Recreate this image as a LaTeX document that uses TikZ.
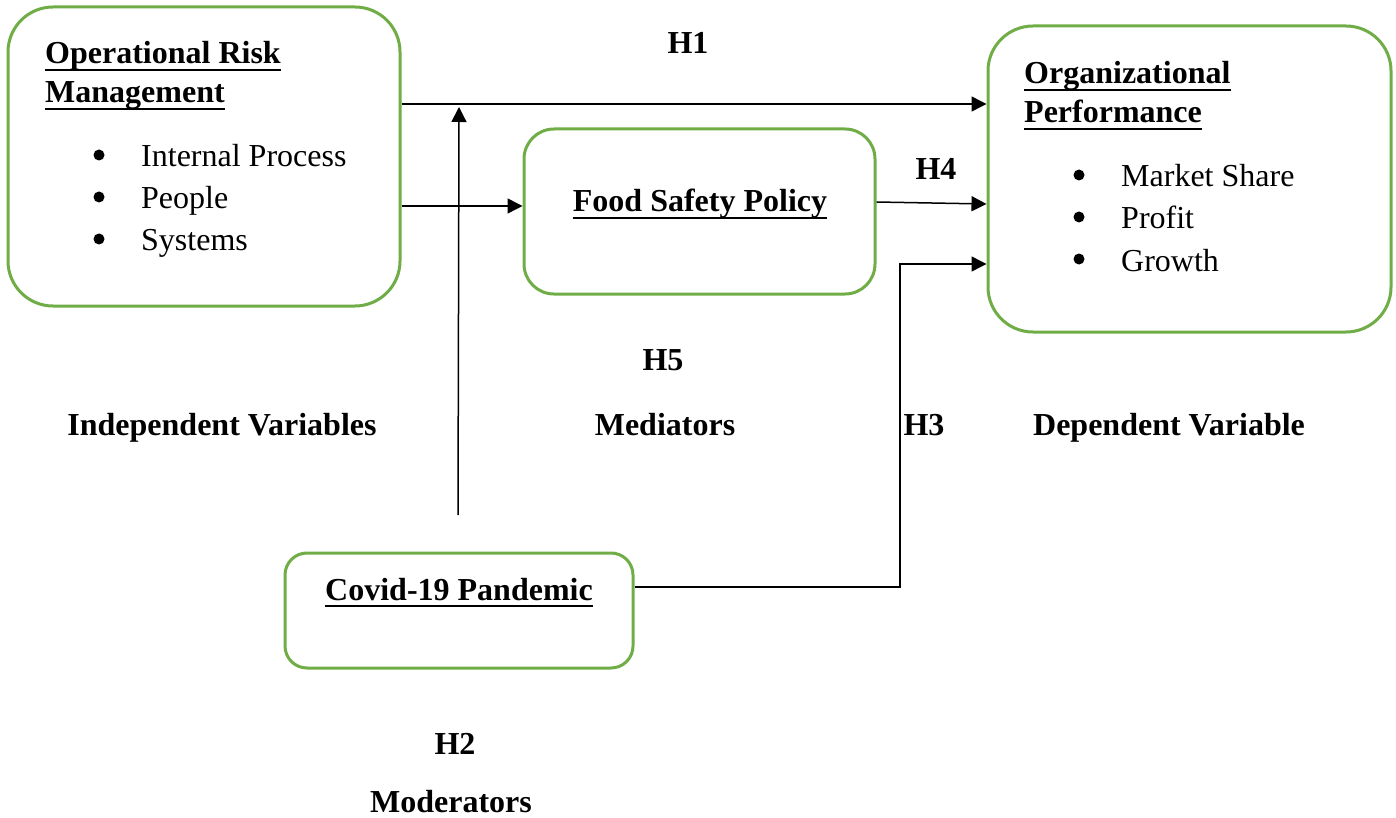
\documentclass[tikz,border=0pt]{standalone}
\usepackage{fontspec}
\setmainfont{Liberation Serif}
\usetikzlibrary{arrows.meta}
\definecolor{boxgreen}{RGB}{112,173,71}
\begin{document}
\begin{tikzpicture}[x=1pt,y=-1pt,
  font=\fontsize{32}{40}\selectfont,
  box/.style={draw=boxgreen, line width=3pt, fill=white, inner sep=0pt},
  lbl/.style={font=\fontsize{32}{40}\selectfont\bfseries, anchor=base, inner sep=0pt},
  ttl/.style={font=\fontsize{32}{40}\selectfont\bfseries, anchor=base west, inner sep=0pt},
  itm/.style={anchor=base west, inner sep=0pt},
  bul/.style={circle, fill=black, inner sep=0pt, minimum size=11pt},
  uln/.style={line width=2.8pt},
  arr/.style={-{Triangle[length=15pt,width=15pt]}, line width=1.5pt}]
\useasboundingbox (0,0) rectangle (1396,818);
% boxes
\node[box, rounded corners=45pt, minimum width=392pt, minimum height=299pt] (orm) at (204,156.5) {};
\node[box, rounded corners=30pt, minimum width=351pt, minimum height=165pt] (fsp) at (699.5,211.5) {};
\node[box, rounded corners=45pt, minimum width=403pt, minimum height=306pt] (op) at (1189.5,179) {};
\node[box, rounded corners=22pt, minimum width=348pt, minimum height=115pt] (cov) at (459,610.5) {};
% box texts
\node[ttl] (ormt1) at (45,64) {Operational Risk};
\node[ttl] (ormt2) at (45,103) {Management};
\node[bul] (ormb1) at (99,155) {};
\node[bul] (ormb2) at (99,197) {};
\node[bul] (ormb3) at (99,239) {};
\node[itm] (ormi1) at (141,167) {Internal Process};
\node[itm] (ormi2) at (141,209) {People};
\node[itm] (ormi3) at (141,251) {Systems};
\node[lbl] (fspt) at (700,212) {Food Safety Policy};
\node[ttl] (opt1) at (1024,84) {Organizational};
\node[ttl] (opt2) at (1024,123) {Performance};
\node[bul] (opb1) at (1079,175) {};
\node[bul] (opb2) at (1079,217) {};
\node[bul] (opb3) at (1079,259) {};
\node[itm] (opi1) at (1121,187) {Market Share};
\node[itm] (opi2) at (1121,229) {Profit};
\node[itm] (opi3) at (1121,271) {Growth};
\node[lbl] (covt) at (459,600) {Covid-19 Pandemic};
% underlines
\foreach \n in {ormt1,ormt2,fspt,opt1,opt2,covt}
  \draw[uln] ([yshift=-6pt]\n.base west) -- ([yshift=-6pt]\n.base east);
% labels
\node[lbl] (h1) at (688,54) {H1};
\node[lbl] (h4) at (936,180) {H4};
\node[lbl] (h5) at (663,370) {H5};
\node[lbl] (iv) at (222,435) {Independent Variables};
\node[lbl] (med) at (665,435) {Mediators};
\node[lbl] (h3) at (924,435) {H3};
\node[lbl] (dv) at (1169,435) {Dependent Variable};
\node[lbl] (h2) at (455,754) {H2};
\node[lbl] (mod) at (451,812) {Moderators};
% connectors
\coordinate (yh1) at (0,104);
\coordinate (yfa) at (0,206);
\coordinate (yfb) at (0,202);
\coordinate (yfc) at (0,204);
\coordinate (yc) at (0,587);
\coordinate (k) at (900,264);
\coordinate (ms) at (458,515);
\coordinate (me) at (459,107);
\draw[arr] (orm.east |- yh1) -- (op.west |- yh1);
\draw[arr] (orm.east |- yfa) -- (fsp.west |- yfa);
\draw[arr] (fsp.east |- yfb) -- (op.west |- yfc);
\draw[arr] (cov.east |- yc) -| (k) -- (op.west |- k);
\draw[arr] (ms) -- (me);
\end{tikzpicture}
\end{document}
